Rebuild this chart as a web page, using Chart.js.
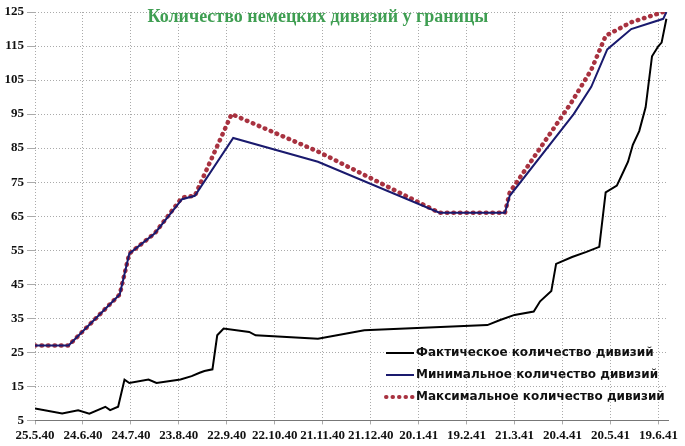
<!DOCTYPE html>
<html>
<head>
<meta charset="utf-8">
<script src="https://cdn.jsdelivr.net/npm/chart.js@4/dist/chart.umd.min.js"></script>
<style>
  body { margin: 0; background: #fff; }
  #wrap { width: 685px; height: 446px; }
</style>
</head>
<body>
<div id="wrap"><canvas id="c"></canvas></div>
<script>
// дни от 25.5.40
const tickLabels = ['25.5.40', '24.6.40', '24.7.40', '23.8.40', '22.9.40', '22.10.40', '21.11.40',
  '21.12.40', '20.1.41', '19.2.41', '21.3.41', '20.4.41', '20.5.41', '19.6.41']

const factDays = [0, 17, 27, 34, 44, 47, 52, 56, 59, 71, 76, 91, 98, 103, 106, 111, 114, 118, 134, 138,
  177, 206, 283, 291, 300, 312, 316, 323, 326, 336, 345, 353, 357, 364, 368, 371, 374, 378, 382, 386, 390, 392, 395]
const factVals = [8.5, 7, 8, 7, 9, 8, 9, 17, 16, 17, 16, 17, 18, 19, 19.5, 20, 30, 32, 31, 30,
  29, 31.5, 33, 34.5, 36, 37, 40, 43, 51, 53, 54.5, 56, 72, 74, 78, 81, 86, 90, 97, 112, 115, 116, 123]

const minDays = [0, 21, 53, 59, 75, 92, 100, 124, 177, 253, 294, 297, 337, 348, 358, 373, 393, 395]
const minVals = [27, 27, 42, 54, 60, 70, 71, 88, 81, 66, 66, 71, 95, 103, 114, 120, 123, 125]

const maxDays = [0, 21, 53, 59, 75, 92, 100, 123, 177, 253, 294, 297, 335, 348, 357, 373, 393]
const maxVals = [27, 27, 42, 54, 60, 70.5, 71, 95, 84, 66, 66, 72, 98, 108, 118, 122, 125]

const pts = (d, v) => d.map((x, i) => ({ x, y: v[i] }))

const overlay = {
  id: 'overlay',
  afterDraw(chart) {
    const ctx = chart.ctx
    ctx.save()
    ctx.fillStyle = '#3f9e52'
    ctx.font = 'bold 18px "Liberation Serif"'
    ctx.textAlign = 'center'
    ctx.textBaseline = 'middle'
    ctx.fillText('Количество немецких дивизий у границы', 318, 17)
    const items = [
      ['Фактическое количество дивизий', '#000', []],
      ['Минимальное количество дивизий', '#1a1a6e', []],
      ['Максимальное количество дивизий', '#a83240', [0.5, 6]]
    ]
    ctx.textAlign = 'left'
    ctx.font = 'bold 12px "DejaVu Sans"'
    items.forEach((it, i) => {
      const y = 353 + i * 22
      ctx.strokeStyle = it[1]
      ctx.lineWidth = it[2].length ? 4 : 2
      ctx.lineCap = it[2].length ? 'round' : 'butt'
      ctx.setLineDash(it[2])
      ctx.beginPath(); ctx.moveTo(386, y); ctx.lineTo(414, y); ctx.stroke()
      ctx.setLineDash([])
      ctx.fillStyle = '#111'
      ctx.fillText(it[0], 416, y)
    })
    ctx.restore()
  }
}

new Chart(document.getElementById('c'), {
  type: 'line',
  data: {
    datasets: [
      { label: 'Фактическое количество дивизий', data: pts(factDays, factVals), borderColor: '#000', borderWidth: 2, pointRadius: 0, tension: 0 },
      { label: 'Минимальное количество дивизий', data: pts(minDays, minVals), borderColor: '#1a1a6e', borderWidth: 2, pointRadius: 0, tension: 0 },
      { label: 'Максимальное количество дивизий', data: pts(maxDays, maxVals), borderColor: '#a83240', borderWidth: 4.5, borderDash: [0.5, 6], borderCapStyle: 'round', pointRadius: 0, tension: 0 }
    ]
  },
  options: {
    responsive: true,
    maintainAspectRatio: false,
    animation: false,
    layout: { padding: { top: 12, right: 17, left: 0, bottom: 0 } },
    plugins: { legend: { display: false }, tooltip: { enabled: false } },
    scales: {
      x: {
        type: 'linear', min: 0, max: 396,
        ticks: {
          stepSize: 30, includeBounds: false, autoSkip: false, maxRotation: 0,
          color: '#111', font: { family: 'Liberation Serif', weight: 'bold', size: 13 },
          callback: v => tickLabels[v / 30] || ''
        },
        grid: { color: '#aaa', lineWidth: 1, tickLength: 4 },
        border: { color: '#777', dash: [1, 2] }
      },
      y: {
        min: 5, max: 125,
        ticks: { stepSize: 10, color: '#111', font: { family: 'Liberation Serif', weight: 'bold', size: 13 } },
        afterFit: s => { s.width = 35 },
        grid: { color: '#aaa', lineWidth: 1 },
        border: { display: false, dash: [1, 2] }
      }
    }
  },
  plugins: [overlay]
})
</script>
</body>
</html>
